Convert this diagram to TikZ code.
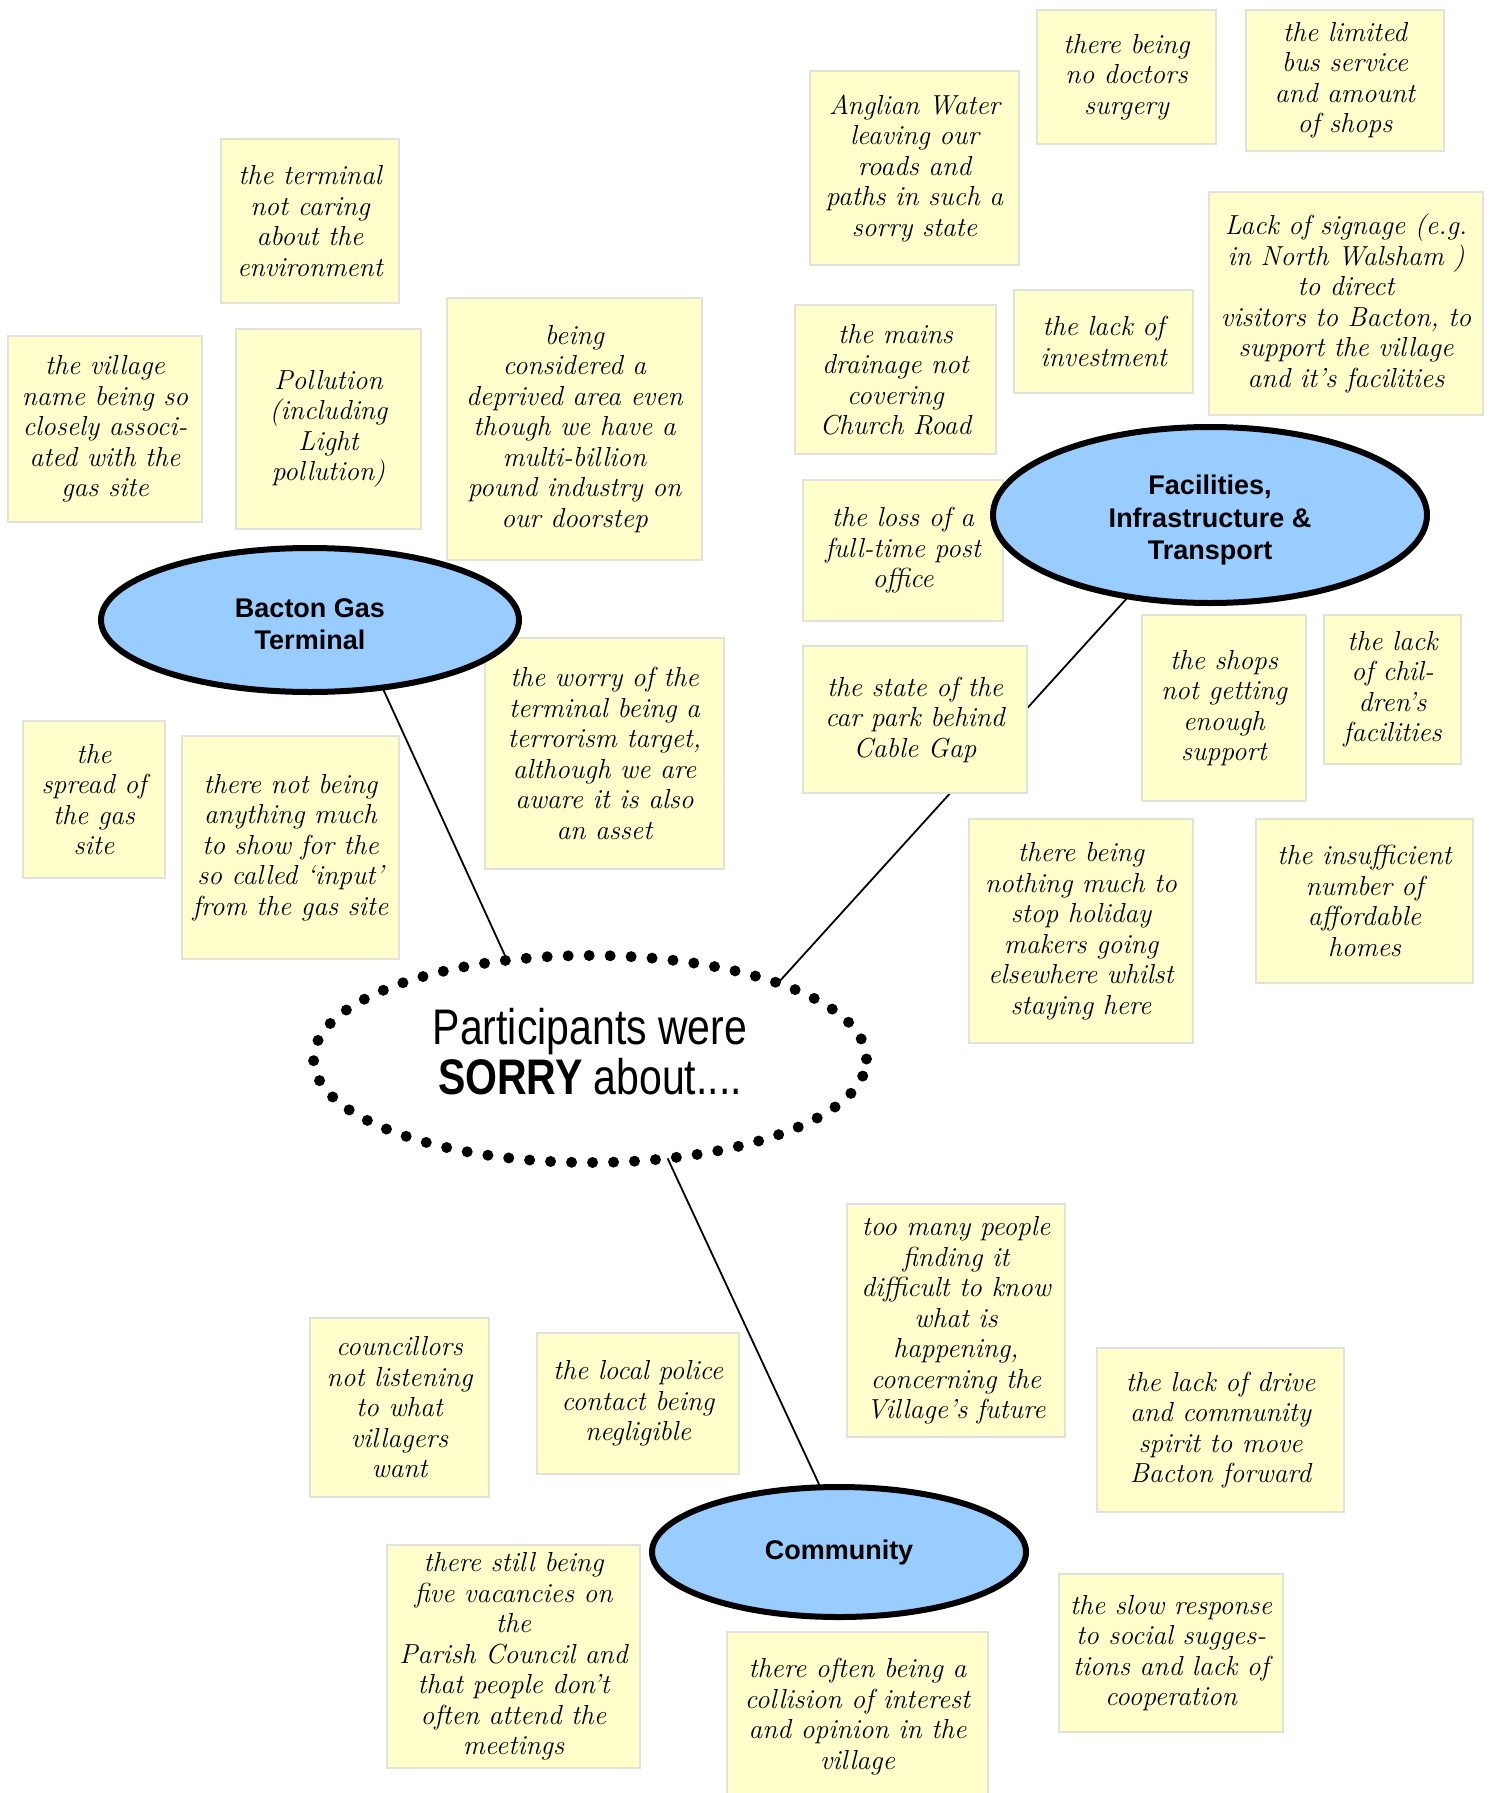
\documentclass[tikz,border=0pt]{standalone}
\usepackage{fontspec}
\newfontfamily\lblfont{Liberation Sans}
\newfontfamily\ctrfont[FakeStretch=0.82]{Liberation Sans}
\usetikzlibrary{shapes.geometric}
\pgfdeclarelayer{bg}
\pgfsetlayers{bg,main}
\definecolor{notefill}{HTML}{FFFFCC}
\definecolor{noteline}{HTML}{E2E2DA}
\definecolor{topicblue}{HTML}{99CCFF}
\begin{document}
\begin{tikzpicture}[x=1pt,y=-1pt,
 note/.style={draw=noteline, line width=2.5pt, fill=notefill, inner sep=0pt, align=center,
   font=\fontsize{27.5}{30.5}\selectfont\itshape},
 topic/.style={ellipse, draw=black, line width=6pt, fill=topicblue, inner sep=0pt, outer sep=0pt,
   align=center, font=\fontsize{27}{32.5}\selectfont\lblfont\bfseries},
 centre/.style={ellipse, draw=black, line width=11pt, line cap=round, dash pattern=on 0pt off 21pt,
   inner sep=0pt, outer sep=0pt, align=center, font=\fontsize{50}{52}\selectfont\ctrfont},
 link/.style={line width=1.8pt, draw=black}]
\useasboundingbox (0,0) rectangle (1490,1793);

% notes
\node[note, minimum width=179pt, minimum height=134pt] (n1) at (1126.5,77) {there being\\no doctors\\surgery};
\node[note, minimum width=198pt, minimum height=141pt] (n2) at (1345,80.5) {the limited\\bus service\\and amount\\of shops};
\node[note, minimum width=209pt, minimum height=194pt] (n3) at (914.5,168) {Anglian Water\\leaving our\\roads and\\paths in such a\\sorry state};
\node[note, minimum width=178pt, minimum height=164pt] (n4) at (310,221) {the terminal\\not caring\\about the\\environment};
\node[note, minimum width=274pt, minimum height=223pt] (n5) at (1346,303.5) {Lack of signage (e.g.\\in North Walsham )\\to direct\\visitors to Bacton, to\\support the village\\and it’s facilities};
\node[note, minimum width=201pt, minimum height=149pt] (n6) at (895.5,379.5) {the mains\\drainage not\\covering\\Church Road};
\node[note, minimum width=179pt, minimum height=103pt] (n7) at (1103.5,341.5) {the lack of\\investment};
\node[note, minimum width=194pt, minimum height=186pt] (n8) at (105,429) {the village\\name being so\\closely associ-\\ated with the\\gas site};
\node[note, minimum width=185pt, minimum height=200pt] (n9) at (328.5,429) {Pollution\\(including\\Light\\pollution)};
\node[note, minimum width=255pt, minimum height=262pt] (n10) at (574.5,429) {being\\considered a\\deprived area even\\though we have a\\multi-billion\\pound industry on\\our doorstep};
\node[note, minimum width=200pt, minimum height=141pt] (n11) at (903,550.5) {the loss of a\\full-time post\\office};
\node[note, minimum width=224pt, minimum height=147pt] (n12) at (915,719.5) {the state of the\\car park behind\\Cable Gap};
\node[note, minimum width=164pt, minimum height=186pt] (n13) at (1224,708) {the shops\\not getting\\enough\\support};
\node[note, minimum width=137pt, minimum height=149pt] (n14) at (1392.5,689.5) {the lack\\of chil-\\dren’s\\facilities};
\node[note, minimum width=239pt, minimum height=231pt] (n15) at (604.5,753.5) {the worry of the\\terminal being a\\terrorism target,\\although we are\\aware it is also\\an asset};
\node[note, minimum width=142pt, minimum height=157pt] (n16) at (94,799.5) {the\\spread of\\the gas\\site};
\node[note, minimum width=217pt, minimum height=223pt] (n17) at (290.5,847.5) {there not being\\anything much\\to show for the\\so called ‘input’\\from the gas site};
\node[note, minimum width=224pt, minimum height=224pt] (n18) at (1081,931) {there being\\nothing much to\\stop holiday\\makers going\\elsewhere whilst\\staying here};
\node[note, minimum width=217pt, minimum height=164pt] (n19) at (1364.5,901) {the insufficient\\number of\\affordable\\homes};
\node[note, minimum width=218pt, minimum height=233pt] (n20) at (956,1320.5) {too many people\\finding it\\difficult to know\\what is\\happening,\\concerning the\\Village’s future};
\node[note, minimum width=179pt, minimum height=179pt] (n21) at (399.5,1407.5) {councillors\\not listening\\to what\\villagers\\want};
\node[note, minimum width=202pt, minimum height=141pt] (n22) at (638,1403.5) {the local police\\contact being\\negligible};
\node[note, minimum width=247pt, minimum height=164pt] (n23) at (1220.5,1430) {the lack of drive\\and community\\spirit to move\\Bacton forward};
\node[note, minimum width=253pt, minimum height=223pt] (n24) at (513.5,1656.5) {there still being\\five vacancies on\\the\\Parish Council and\\that people don’t\\often attend the\\meetings};
\node[note, minimum width=224pt, minimum height=158pt] (n25) at (1171,1653) {the slow response\\to social sugges-\\tions and lack of\\cooperation};
\node[note, minimum width=261pt, minimum height=169pt] (n26) at (857.5,1716.5) {there often being a\\collision of interest\\and opinion in the\\village};

% topics
\node[topic, minimum width=418pt, minimum height=144pt] (bacton) at (310,620) {\raisebox{-13pt}[0pt][0pt]{\begin{tabular}{@{}c@{}}Bacton Gas\\Terminal\end{tabular}}};
\node[topic, minimum width=434pt, minimum height=176pt] (facil) at (1210,515) {\raisebox{-12pt}[0pt][0pt]{\begin{tabular}{@{}c@{}}Facilities,\\Infrastructure \&\\Transport\end{tabular}}};
\node[topic, minimum width=374pt, minimum height=130pt] (comm) at (839,1552) {Community};
\node[centre, minimum width=553pt, minimum height=207pt] (central) at (590,1059) {\raisebox{5pt}{\begin{tabular}{@{}c@{}}Participants were\\[-2pt]\textbf{SORRY} about....\end{tabular}}};

\begin{pgfonlayer}{bg}
\fill[white] (0,0) rectangle (1490,1793);
\draw[link] (bacton.-43) -- (central.130);
\draw[link] (facil.-135) -- (central.22);
\draw[link] (comm.106) -- (central.-52);
\end{pgfonlayer}
\end{tikzpicture}
\end{document}
